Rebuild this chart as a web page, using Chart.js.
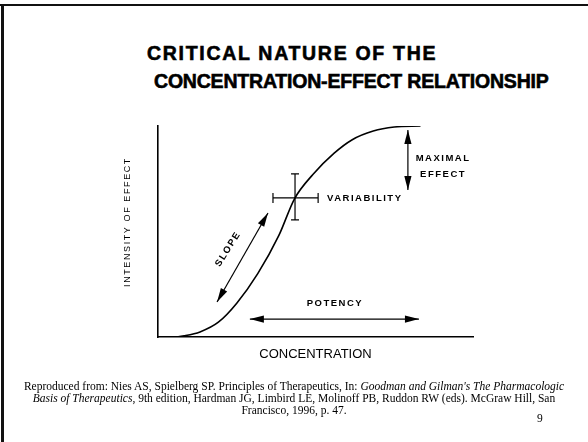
<!DOCTYPE html>
<html>
<head>
<meta charset="utf-8">
<script src="https://cdn.jsdelivr.net/npm/chart.js@4/dist/chart.umd.min.js"></script>
<style>
  html, body { margin: 0; padding: 0; background: #fff; }
  #slide { position: relative; width: 588px; height: 442px; overflow: hidden; }
  .frame-top { position: absolute; left: 0; top: 4px; width: 588px; height: 2px; background: #111; }
  .frame-left { position: absolute; left: 1px; top: 4px; width: 3px; height: 438px; background: #111; }
  .title { position: absolute; font-family: "Liberation Sans", Arial, sans-serif; font-weight: bold;
           font-size: 19.5px; color: #000; white-space: nowrap; -webkit-text-stroke: 0.6px #000; line-height: 1; }
  #t1 { left: 147px; top: 44px; letter-spacing: 1.7px; }
  #t2 { left: 154px; top: 72px; letter-spacing: -0.2px; }
  .caption { position: absolute; left: 0; width: 588px; text-align: center; font-family: "Liberation Serif", "Times New Roman", serif;
             font-size: 11.5px; line-height: 11.8px; top: 381px; color: #000; }
  .pagenum { position: absolute; left: 537px; top: 412px; font-family: "Liberation Serif", serif; font-size: 11.5px; }
  canvas { position: absolute; left: 0; top: 0; }
</style>
</head>
<body>
<div id="slide">
  <div class="frame-top"></div>
  <div class="frame-left"></div>
  <div class="title" id="t1">CRITICAL NATURE OF THE</div>
  <div class="title" id="t2">CONCENTRATION-EFFECT RELATIONSHIP</div>
  <canvas id="chart" width="588" height="442"></canvas>
  <div class="caption">Reproduced from: Nies AS, Spielberg SP. Principles of Therapeutics, In: <i>Goodman and Gilman's The Pharmacologic<br>Basis of Therapeutics</i>, 9th edition, Hardman JG, Limbird LE, Molinoff PB, Ruddon RW (eds). McGraw Hill, San<br>Francisco, 1996, p. 47.</div>
  <div class="pagenum">9</div>
</div>
<script>
// concentration / effect curve (arbitrary units)
const concentration = [0, 6, 10, 16, 23, 30, 38, 46, 52, 59, 67, 74, 82, 90, 100];
const effect = [0, 0, 0.6, 2.4, 7, 16, 30, 48, 65.5, 77, 87, 93.5, 97.6, 99.5, 100];

const xLabel = 'CONCENTRATION';
const yLabel = 'INTENSITY OF EFFECT';

// annotation marks, in data units
const notes = {
    cross: { x: 52.2, y: 65.9, x0: 43.8, x1: 61, y0: 55.5, y1: 77.3 },
    maxArrow: { x: 95.2, y0: 98.1, y1: 69.7 },
    slopeArrow: { x0: 41.9, y0: 58.8, x1: 22.5, y1: 16.6 },
    potencyArrow: { y: 8.5, x0: 35, x1: 99.4 }
};

function arrowHead(ctx, fx, fy, tx, ty) {
    const a = Math.atan2(ty - fy, tx - fx);
    const len = 14, hw = 3.6;
    ctx.beginPath();
    ctx.moveTo(tx, ty);
    ctx.lineTo(tx - len * Math.cos(a) + hw * Math.sin(a), ty - len * Math.sin(a) - hw * Math.cos(a));
    ctx.lineTo(tx - len * Math.cos(a) - hw * Math.sin(a), ty - len * Math.sin(a) + hw * Math.cos(a));
    ctx.closePath();
    ctx.fill();
}

function doubleArrow(ctx, x0, y0, x1, y1) {
    ctx.beginPath();
    ctx.moveTo(x0, y0);
    ctx.lineTo(x1, y1);
    ctx.stroke();
    arrowHead(ctx, x0, y0, x1, y1);
    arrowHead(ctx, x1, y1, x0, y0);
}

const notesPlugin = {
    id: 'notes',
    afterDatasetsDraw(chart) {
        const ctx = chart.ctx;
        const xs = chart.scales.x, ys = chart.scales.y;
        const px = v => xs.getPixelForValue(v);
        const py = v => ys.getPixelForValue(v);
        ctx.save();
        ctx.strokeStyle = '#000';
        ctx.fillStyle = '#000';
        ctx.lineWidth = 1.2;

        // variability cross with end serifs
        const c = notes.cross;
        ctx.beginPath();
        ctx.moveTo(px(c.x), py(c.y0)); ctx.lineTo(px(c.x), py(c.y1));
        ctx.moveTo(px(c.x0), py(c.y)); ctx.lineTo(px(c.x1), py(c.y));
        ctx.moveTo(px(c.x) - 4, py(c.y0)); ctx.lineTo(px(c.x) + 4, py(c.y0));
        ctx.moveTo(px(c.x) - 4, py(c.y1)); ctx.lineTo(px(c.x) + 4, py(c.y1));
        ctx.moveTo(px(c.x0), py(c.y) - 5); ctx.lineTo(px(c.x0), py(c.y) + 5);
        ctx.moveTo(px(c.x1), py(c.y) - 5); ctx.lineTo(px(c.x1), py(c.y) + 5);
        ctx.stroke();

        const m = notes.maxArrow;
        doubleArrow(ctx, px(m.x), py(m.y0), px(m.x), py(m.y1));
        const s = notes.slopeArrow;
        doubleArrow(ctx, px(s.x0), py(s.y0), px(s.x1), py(s.y1));
        const p = notes.potencyArrow;
        doubleArrow(ctx, px(p.x0), py(p.y), px(p.x1), py(p.y));

        // labels
        ctx.font = 'bold 9.5px "Liberation Sans", Arial, sans-serif';
        ctx.letterSpacing = '1.5px';
        ctx.textBaseline = 'middle';
        ctx.textAlign = 'left';
        ctx.fillText('VARIABILITY', px(64.4), py(c.y));
        ctx.textAlign = 'center';
        ctx.fillText('MAXIMAL', px(108.6), py(84.8));
        ctx.fillText('EFFECT', px(108.6), py(77.3));
        ctx.fillText('POTENCY', px(67.4), py(16.1));
        ctx.save();
        ctx.translate(px(26.7), py(41.7));
        ctx.rotate(-58 * Math.PI / 180);
        ctx.fillText('SLOPE', 0, 0);
        ctx.restore();

        // y axis title, letter spaced
        ctx.font = '9px "Liberation Sans", Arial, sans-serif';
        ctx.letterSpacing = '1.6px';
        ctx.save();
        ctx.translate(128, 222);
        ctx.rotate(-Math.PI / 2);
        ctx.fillText(yLabel, 0, 0);
        ctx.restore();
        ctx.restore();
    }
};

new Chart(document.getElementById('chart'), {
    type: 'line',
    data: {
        datasets: [{
            data: concentration.map((x, i) => ({ x: x, y: effect[i] })),
            borderColor: '#000',
            borderWidth: 1.6,
            pointRadius: 0,
            cubicInterpolationMode: 'monotone',
            fill: false
        }]
    },
    options: {
        responsive: false,
        animation: false,
        events: [],
        layout: { padding: { left: 158, right: 115, top: 126, bottom: 79.4 } },
        scales: {
            x: {
                type: 'linear',
                min: 0,
                max: 120,
                grid: { display: false, drawTicks: false },
                ticks: { display: false },
                border: { display: true, color: '#000', width: 1.6 },
                title: {
                    display: true,
                    text: xLabel,
                    color: '#000',
                    font: { family: '"Liberation Sans", Arial, sans-serif', size: 13 },
                    padding: { top: 10, bottom: 0 }
                }
            },
            y: {
                min: 0,
                max: 100,
                grid: { display: false, drawTicks: false },
                ticks: { display: false },
                border: { display: true, color: '#000', width: 1.6 }
            }
        },
        plugins: {
            legend: { display: false },
            tooltip: { enabled: false }
        }
    },
    plugins: [notesPlugin]
});
</script>
</body>
</html>
